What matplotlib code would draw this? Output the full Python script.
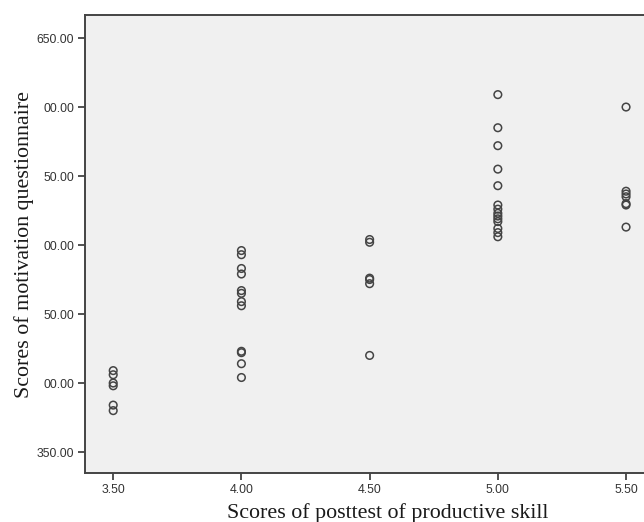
import matplotlib
matplotlib.use("Agg")
import matplotlib.pyplot as plt

# posttest score (x) and motivation score (y)
x_350 = [3.5] * 6
y_350 = [409, 406, 400, 398, 384, 380]
x_400 = [4.0] * 12
y_400 = [496, 493, 483, 479, 467, 465, 459, 456, 423, 422, 414, 404]
x_450 = [4.5] * 6
y_450 = [504, 502, 476, 475, 472, 420]
x_500 = [5.0] * 14
y_500 = [609, 585, 572, 555, 543, 529, 526, 523, 521, 519, 517, 512, 509, 506]
x_550 = [5.5] * 7
y_550 = [600, 539, 537, 535, 530, 529, 513]

xs = x_350 + x_400 + x_450 + x_500 + x_550
ys = y_350 + y_400 + y_450 + y_500 + y_550

xticks = [3.5, 4.0, 4.5, 5.0, 5.5]
xticklabels = ["3.50", "4.00", "4.50", "5.00", "5.50"]
yticks = [350, 400, 450, 500, 550, 600, 650]
yticklabels = ["350.00", "00.00", "50.00", "00.00", "50.00", "00.00", "650.00"]

fig = plt.figure(figsize=(6.44, 5.22), dpi=100)
ax = fig.add_axes([85 / 644, 1 - 473 / 522, (644 - 85) / 644, 458 / 522])
ax.set_facecolor("#f0f0f0")

ax.scatter(xs, ys, s=30, facecolors="none", edgecolors="#444444", linewidths=1.1)

ax.set_xlim(3.39, 5.57)
ax.set_ylim(334.8, 666.7)
ax.set_xticks(xticks)
ax.set_xticklabels(xticklabels)
ax.set_yticks(yticks)
ax.set_yticklabels(yticklabels)
ax.tick_params(direction="out", length=5, width=1.2, color="#333333",
               labelsize=8.8, labelcolor="#333333", pad=3)
for lab in ax.get_xticklabels() + ax.get_yticklabels():
    lab.set_family("Liberation Sans")

for side in ["left", "bottom", "top"]:
    ax.spines[side].set_color("#444444")
    ax.spines[side].set_linewidth(1.4)
ax.spines["right"].set_visible(False)

ax.set_xlabel("Scores of posttest of productive skill", family="Liberation Serif",
              fontsize=15.8, color="#1a1a1a", labelpad=5)
ax.xaxis.label.set_x(0.541)
ax.set_ylabel("Scores of motivation questionnaire", family="Liberation Serif",
              fontsize=15.8, color="#1a1a1a", labelpad=2)

fig.savefig("out.png", dpi=100)
